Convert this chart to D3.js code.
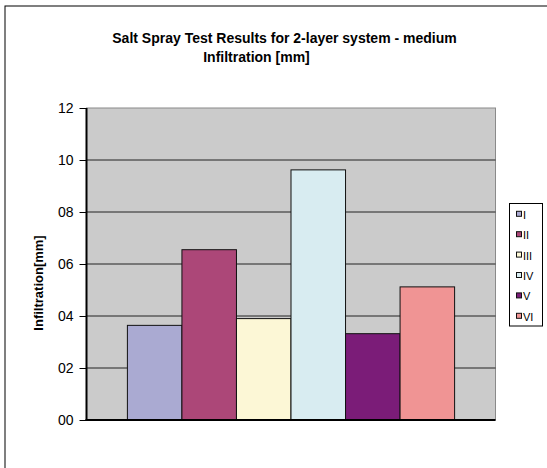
<!DOCTYPE html>
<html>
<head>
<meta charset="utf-8">
<script src="https://cdn.jsdelivr.net/npm/d3@7"></script>
<style>
  body { margin: 0; background: #fff; }
  text { font-family: "Liberation Sans", Arial, sans-serif; }
</style>
</head>
<body>
<div class="chart"></div>
<script>
const categories = ["I", "II", "III", "IV", "V", "VI"];
const values = [3.64, 6.55, 3.9, 9.62, 3.32, 5.12];
const colors = ["#aaaad2", "#ac4778", "#fcf7d6", "#d8ecf1", "#7b1c78", "#f09494"];
const yTicks = [0, 2, 4, 6, 8, 10, 12];

const width = 547, height = 468;
const plot = { left: 86.5, right: 495.5, top: 108, bottom: 420 };

const svg = d3
  .select(".chart")
  .append("svg")
  .attr("width", width)
  .attr("height", height);

// chart area border (runs off the right/bottom of the picture)
svg.append("rect")
  .attr("x", 5).attr("y", 6)
  .attr("width", 560).attr("height", 480)
  .attr("fill", "#fff")
  .attr("stroke", "#000")
  .attr("stroke-width", 1);

const yScale = d3.scaleLinear().domain([0, 12]).range([plot.bottom, plot.top]);

// one category holding six series, Excel gap width 150%
const barW = (plot.right - plot.left) / (categories.length + 1.5);
const xScale = d3
  .scaleBand()
  .domain(categories)
  .range([plot.left + barW * 0.75, plot.right - barW * 0.75]);

svg.append("rect")
  .attr("x", plot.left).attr("y", plot.top)
  .attr("width", plot.right - plot.left)
  .attr("height", plot.bottom - plot.top)
  .attr("fill", "#cbcbcb")
  .attr("stroke", "#8a8a8a")
  .attr("stroke-width", 1);

const yAxis = (g) =>
  g
    .call(d3.axisLeft(yScale).tickValues(yTicks).tickFormat(d3.format("02d")).tickSize(7).tickPadding(6))
    .call((g) => g.select(".domain").remove())
    .call((g) => g.selectAll(".tick line").attr("stroke", "#000"))
    .call((g) => g.selectAll(".tick text").attr("font-size", 14).attr("fill", "#000")
      .style("font-family", '"Liberation Sans", Arial, sans-serif'));

// gridlines
svg.append("g")
  .selectAll("line")
  .data(yTicks.filter((d) => d > 0 && d < 12))
  .join("line")
  .attr("x1", plot.left).attr("x2", plot.right)
  .attr("y1", (d) => yScale(d)).attr("y2", (d) => yScale(d))
  .attr("stroke", "#222")
  .attr("stroke-width", 1);

svg.append("g").attr("transform", `translate(${plot.left},0)`).call(yAxis);

svg.append("g")
  .selectAll("rect")
  .data(values)
  .join("rect")
  .attr("x", (d, i) => xScale(categories[i]))
  .attr("y", (d) => yScale(d))
  .attr("width", xScale.bandwidth())
  .attr("height", (d) => yScale(0) - yScale(d))
  .attr("fill", (d, i) => colors[i])
  .attr("stroke", "#111")
  .attr("stroke-width", 1);

// axis lines
svg.append("line")
  .attr("x1", plot.left).attr("x2", plot.left)
  .attr("y1", plot.top).attr("y2", plot.bottom)
  .attr("stroke", "#000").attr("stroke-width", 2);
svg.append("line")
  .attr("x1", plot.left - 1).attr("x2", plot.right)
  .attr("y1", plot.bottom).attr("y2", plot.bottom)
  .attr("stroke", "#000").attr("stroke-width", 2);

// titles
svg.append("text")
  .attr("x", 284.5).attr("y", 43)
  .attr("text-anchor", "middle")
  .attr("font-size", 14).attr("font-weight", "bold")
  .text("Salt Spray Test Results for 2-layer system - medium");
svg.append("text")
  .attr("x", 256.5).attr("y", 62)
  .attr("text-anchor", "middle")
  .attr("font-size", 14).attr("font-weight", "bold")
  .text("Infiltration [mm]");

svg.append("text")
  .attr("transform", "translate(42.5,283) rotate(-90)")
  .attr("text-anchor", "middle")
  .attr("font-size", 13).attr("font-weight", "bold")
  .text("Infiltration[mm]");

// legend
const legend = svg.append("g");
legend.append("rect")
  .attr("x", 509.5).attr("y", 203.5)
  .attr("width", 33).attr("height", 122.5)
  .attr("fill", "#fff").attr("stroke", "#000");

const item = legend.selectAll("g")
  .data(categories)
  .join("g")
  .attr("transform", (d, i) => `translate(0,${214.3 + i * 20.4})`);
item.append("rect")
  .attr("x", 516.5).attr("y", -3)
  .attr("width", 5).attr("height", 5)
  .attr("fill", (d, i) => colors[i])
  .attr("stroke", "#111");
item.append("text")
  .attr("x", 523).attr("y", 4.5)
  .attr("font-size", 11)
  .text((d) => d);
</script>
</body>
</html>
